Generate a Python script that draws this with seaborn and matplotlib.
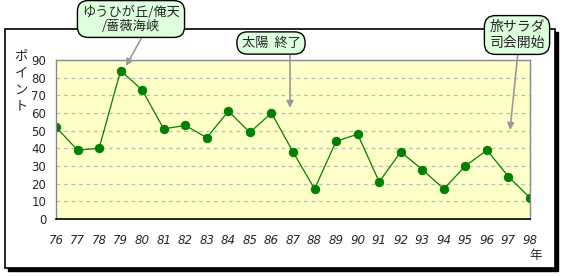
import matplotlib
matplotlib.use("Agg")
import matplotlib.pyplot as plt
import seaborn as sns
import pandas as pd
from matplotlib.patches import Rectangle

years = [76, 77, 78, 79, 80, 81, 82, 83, 84, 85, 86, 87, 88, 89, 90, 91, 92, 93, 94, 95, 96, 97, 98]
points = [52, 39, 40, 84, 73, 51, 53, 46, 61, 49, 60, 38, 17, 44, 48, 21, 38, 28, 17, 30, 39, 24, 12]
y_ticks = [0, 10, 20, 30, 40, 50, 60, 70, 80, 90]
ylabel_chars = ["ポ", "イ", "ン", "ト"]
xlabel_text = "年"
notes = ["ゆうひが丘/俺天\n/薔薇海峡", "太陽  終了", "旅サラダ\n司会開始"]

sns.set_style("white")
plt.rcParams['font.family'] = ['Noto Sans CJK JP', 'DejaVu Sans']

W, H = 565, 276
fig = plt.figure(figsize=(W / 100, H / 100), dpi=100)

def fx(px):
    return px / W

def fy(py):
    return 1 - py / H

# outer frame with shadow
fig.patches.append(Rectangle((fx(8), fy(271)), fx(550), (271 - 32) / H, transform=fig.transFigure,
                             facecolor='black', edgecolor='black', zorder=0))
fig.patches.append(Rectangle((fx(5), fy(268)), fx(550), (268 - 29) / H, transform=fig.transFigure,
                             facecolor='white', edgecolor='black', linewidth=1.2, zorder=1))

ax = fig.add_axes([fx(56), fy(219), fx(530 - 56), (219 - 60) / H])
ax.set_zorder(2)
ax.set_facecolor('#FFFFC8')

df = pd.DataFrame({"year": years, "pt": points})
sns.lineplot(data=df, x="year", y="pt", ax=ax, color='#008000', linewidth=0.9,
             marker='o', markersize=6, markeredgecolor='#008000', markerfacecolor='#008000')

ax.set_xlim(years[0], years[-1])
ax.set_ylim(0, 90)
ax.set_yticks(y_ticks)
ax.set_xticks(years)
ax.set_xticklabels([str(y) for y in years], fontstyle='italic', fontsize=8.5, family='DejaVu Sans')
ax.set_yticklabels([str(v) for v in y_ticks], fontsize=8.5, family='DejaVu Sans')
ax.tick_params(axis='x', direction='out', length=5, width=1, color='black', pad=6)
ax.tick_params(axis='y', length=0, pad=7)
for v in y_ticks[1:-1]:
    ax.axhline(v, color='#BBBBBB', linestyle=(0, (3, 3)), linewidth=0.9, zorder=0)
ax.set_xlabel("")
ax.set_ylabel("")
for s in ['top', 'right', 'left']:
    ax.spines[s].set_color('#888888')
    ax.spines[s].set_linewidth(1)
ax.spines['bottom'].set_color('black')
ax.spines['bottom'].set_linewidth(1.2)

for i, ch in enumerate(ylabel_chars):
    fig.text(fx(21), fy(56 + i * 17), ch, ha='center', va='center', fontsize=9.5)
fig.text(fx(536), fy(256), xlabel_text, ha='center', va='center', fontsize=9)

box = dict(boxstyle='round,pad=0.35,rounding_size=0.8', facecolor='#DDFFDD', edgecolor='black', linewidth=1)
arrow = dict(arrowstyle='-|>', color='#999999', linewidth=1.2, mutation_scale=10, shrinkA=0, shrinkB=0)

# arrows (start, tip) in figure pixels from top-left
arrows = [((142, 37), (126, 66)), ((290, 53), (290, 108)), ((518, 52), (510, 130))]
for (sx, sy), (tx, ty) in arrows:
    ax.annotate("", xy=(fx(tx), fy(ty)), xycoords='figure fraction',
                xytext=(fx(sx), fy(sy)), textcoords='figure fraction',
                arrowprops=arrow, annotation_clip=False)

centers = [(131, 19), (271, 43), (517, 35)]
sizes = [9.5, 9.5, 10]
for txt, (cx, cy), fs in zip(notes, centers, sizes):
    t = fig.text(fx(cx), fy(cy), txt, ha='center', va='center', fontsize=fs,
                 bbox=box, linespacing=1.1)
    t.set_zorder(5)

fig.savefig("out.png", dpi=100)
